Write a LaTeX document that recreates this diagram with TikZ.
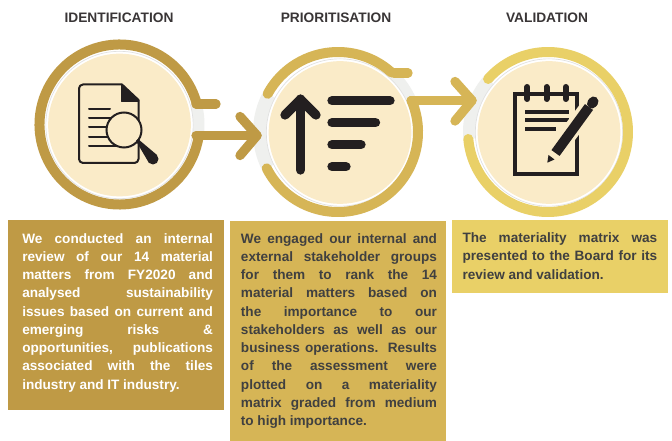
\documentclass[tikz,border=0pt]{standalone}
\usepackage{fontspec}
\setmainfont{Liberation Sans}
\definecolor{goldA}{HTML}{BF9A45}
\definecolor{goldB}{HTML}{D6B556}
\definecolor{goldC}{HTML}{E9D067}
\definecolor{cream}{HTML}{FAEBC8}
\definecolor{halo}{HTML}{EFF0EE}
\definecolor{ink}{HTML}{231F20}
\definecolor{darktext}{HTML}{404040}
\newcommand{\jline}[2]{\hbox to #1{\spaceskip=0.27em plus 1fil minus 0.12em\relax #2}}
\newcommand{\lline}[1]{\hbox{\spaceskip=0.27em\relax #1}}
\newcommand{\bodyblock}[1]{\vbox{\baselineskip=13.7pt\lineskiplimit=-20pt #1}}
\tikzset{
  x=0.75pt,y=-0.75pt,
  heading/.style={font=\fontsize{10.3}{12}\selectfont\bfseries,text=ink!90,inner sep=0pt,anchor=center},
  backdisc/.style={circle,fill=white,draw=black!12,line width=0.5pt,minimum size=110.5pt,inner sep=0pt},
  disc/.style={circle,fill=cream,minimum size=107pt,inner sep=0pt},
  ringA/.style={draw=goldA,line width=7.5pt},
  ringB/.style={draw=goldB,line width=7.5pt,line cap=round},
  ringC/.style={draw=goldC,line width=7.5pt,line cap=round},
  barline/.style={line width=7pt,line cap=round,line join=round},
  thin/.style={draw=ink,line width=1.5pt,line cap=round,line join=round},
  fatbar/.style={draw=ink,line width=7pt,line cap=round,line join=round},
  body/.style={font=\fontsize{10.2}{13.7}\selectfont\bfseries,inner sep=0pt,anchor=north west,align=left},
}
\begin{document}
\begin{tikzpicture}
\useasboundingbox (0,0) rectangle (672,441);
\fill[white] (0,0) rectangle (672,441);
% headings
\node[heading] (h1) at (119,18) {IDENTIFICATION};
\node[heading] (h2) at (336,18) {PRIORITISATION};
\node[heading] (h3) at (547,18) {VALIDATION};
% centres
\coordinate (c1) at (119.5,124.5);
\coordinate (c2) at (338,132);
\coordinate (c3) at (548,132);
% halos
\fill[halo] (c1) -- ++(-15:85) arc (-15:8:85) -- cycle;
\fill[halo] (c2) -- ++(153:85) arc (153:208.5:85) -- cycle;
\fill[halo] (c2) -- ++(-48:85) arc (-48:-23:85) -- cycle;
\fill[halo] (c3) -- ++(175:85) arc (175:221.5:85) -- cycle;
% discs
\node[backdisc] (b1) at (119.5,125) {};
\node[disc] (d1) at (119.5,125) {};
\node[backdisc] (b2) at (340,132.5) {};
\node[disc] (d2) at (340,132.5) {};
\node[backdisc] (b3) at (549,132.5) {};
\node[disc] (d3) at (549,132.5) {};
% ring 1
\draw[ringA] (c1) ++(-15:80) arc (-15:-352:80);
\coordinate (t1a) at (196,104);
\coordinate (t1b) at (216,104);
\draw[goldA,barline] (t1a) -- (t1b);
\coordinate (a1s) at (196,135.5);
\coordinate (a1e) at (257,135.5);
\draw[goldA,barline] (a1s) -- (a1e);
\draw[goldA,barline] (240,116.5) -- (a1e) -- (240,155.5);
% ring 2
\draw[ringB] (c2) ++(-151.5:80) arc (-151.5:-48:80);
\coordinate (t2a) at (394,73);
\coordinate (t2b) at (408,73);
\draw[goldB,barline] (t2a) -- (t2b);
\draw[ringB] (c2) ++(153:80) arc (153:-23:80);
\coordinate (a2s) at (411,100.5);
\coordinate (a2e) at (472,100.5);
\draw[goldB,barline] (a2s) -- (a2e);
\draw[goldB,barline] (455,81.5) -- (a2e) -- (455,121);
% ring 3
\draw[ringC] (c3) ++(-138.5:80) arc (-138.5:175:80);
% icon 1
\draw[thin,rounded corners=3pt] (122,84.5) -- (79,84.5) -- (79,163) -- (138.5,163) -- (138.5,100);
\draw[thin] (122,84.5) -- (138.5,100);
\fill[ink,rounded corners=0.5pt] (121,84) -- (121,102) -- (139,102) -- (139,100) -- cycle;
\foreach \yy/\xx in {109/110,118.3/118,127.3/118,136.6/118,145.7/118}
  \draw[thin] (89,\yy) -- (\xx,\yy);
\draw[ink,fill=cream,line width=1.5pt] (124,130) circle (17.5);
\fill[ink] (136,141) -- (138,139) -- (157,155) -- (149,163) -- cycle;
\fill[ink] (153,159) circle (5.5);
% icon 2
\draw[fatbar] (300.5,170) -- (300.5,99);
\draw[fatbar] (285,115) -- (300.5,99.5) -- (316,115);
\draw[fatbar] (332,100.7) -- (390,100.7);
\draw[fatbar] (332,122.7) -- (375.5,122.7);
\draw[fatbar] (332,144.7) -- (361,144.7);
\draw[fatbar] (332,166.7) -- (346,166.7);
% icon 3
\draw[ink,line width=3pt] (515.3,93.7) rectangle (577,173.7);
\foreach \xx in {527.3,546.5,565.7}
  \draw[ink,line width=4.5pt,line cap=round] (\xx,87) -- (\xx,99);
\draw[ink,line width=3pt] (525,112) -- (569,112);
\draw[ink,line width=3pt] (525,120) -- (569,120);
\draw[ink,line width=3pt] (525,129) -- (556,129);
\draw[cream,line width=13pt] (553,155) -- (591,104);
\draw[ink,line width=7.5pt] (555.5,153) -- (589,107);
\draw[ink,line width=7.5pt,line cap=round] (592,103.5) -- (593.5,101.5);
\fill[ink] (547.3,162.7) -- (548.5,155) -- (554.5,159.5) -- cycle;
% boxes
\fill[goldA] (8,220) rectangle (224,410);
\fill[goldB] (230,221) rectangle (446,441);
\fill[goldC] (452,220) rectangle (667.7,293.5);
\node[body,text=white] (t1) at (22,233) {\bodyblock{%
\jline{143pt}{We conducted an internal}
\jline{143pt}{review of our 14 material}
\jline{143pt}{matters from FY2020 and}
\jline{143pt}{analysed sustainability}
\jline{143pt}{issues based on current and}
\jline{143pt}{emerging risks \&}
\jline{143pt}{opportunities, publications}
\jline{143pt}{associated with the tiles}
\lline{industry and IT industry.}}};
\node[body,text=darktext] (t2) at (240.7,233) {\bodyblock{%
\jline{147pt}{We engaged our internal and}
\jline{147pt}{external stakeholder groups}
\jline{147pt}{for them to rank the 14}
\jline{147pt}{material matters based on}
\jline{147pt}{the importance to our}
\jline{147pt}{stakeholders as well as our}
\jline{147pt}{business operations. Results}
\jline{147pt}{of the assessment were}
\jline{147pt}{plotted on a materiality}
\jline{147pt}{matrix graded from medium}
\lline{to high importance.}}};
\node[body,text=darktext] (t3) at (462.3,232.5) {\bodyblock{%
\jline{146pt}{The materiality matrix was}
\jline{146pt}{presented to the Board for its}
\lline{review and validation.}}};
\end{tikzpicture}
\end{document}
